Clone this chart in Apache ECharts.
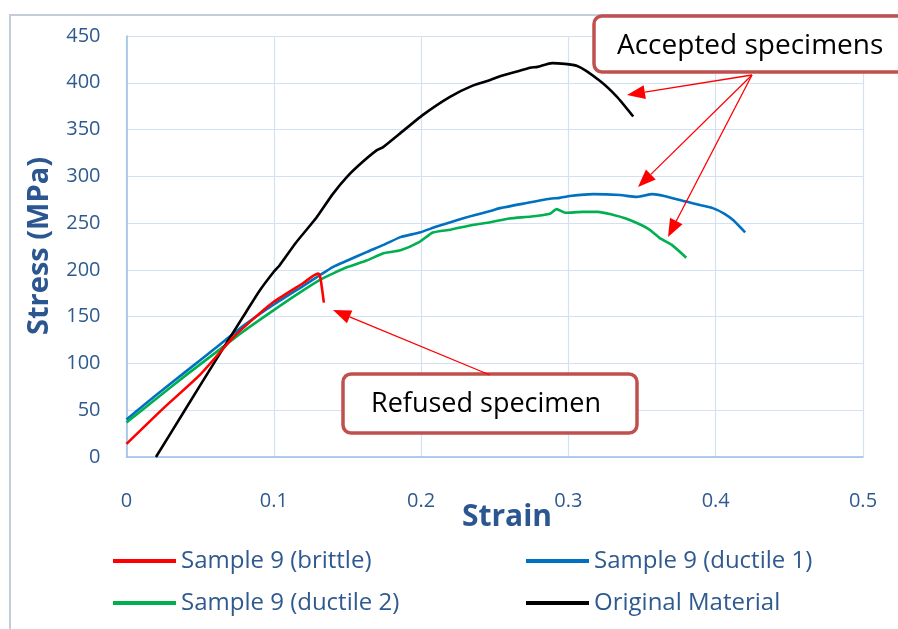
<!DOCTYPE html>
<html><head><meta charset="utf-8">
<script src="https://cdn.jsdelivr.net/npm/echarts@6/dist/echarts.min.js"></script>
<style>html,body{margin:0;padding:0;background:#fff}#c{width:898px;height:629px}</style>
</head><body><div id="c"></div>
<script>
const xTicks = [0, 0.1, 0.2, 0.3, 0.4, 0.5];
const yTicks = [0, 50, 100, 150, 200, 250, 300, 350, 400, 450];
const seriesNames = ['Sample 9 (brittle)', 'Sample 9 (ductile 1)', 'Sample 9 (ductile 2)', 'Original Material'];

const brittleStrain = [0, 0.025, 0.05, 0.0725, 0.09, 0.1, 0.12, 0.13, 0.131, 0.132, 0.134];
const brittleStress = [14, 52, 88, 128, 153, 166, 186, 196, 195, 188, 165];

const ductile1Strain = [0, 0.02, 0.04, 0.06, 0.08, 0.1, 0.12, 0.131, 0.14, 0.15, 0.163, 0.175, 0.186, 0.199, 0.21, 0.22, 0.235, 0.247, 0.2536, 0.27, 0.2875, 0.294, 0.301, 0.317, 0.335, 0.3465, 0.357, 0.365, 0.38, 0.39, 0.398, 0.406, 0.412, 0.42];
const ductile1Stress = [40, 66, 91, 116, 141, 163, 183, 194, 203, 210, 219, 227, 235, 240, 246, 251, 258, 263, 266, 271, 276, 277, 279, 281, 280, 278, 281, 279, 273, 269, 266, 260, 253, 240];

const ductile2Strain = [0, 0.02, 0.04, 0.06, 0.08, 0.1, 0.115, 0.131, 0.14, 0.15, 0.163, 0.175, 0.186, 0.199, 0.208, 0.22, 0.235, 0.247, 0.26, 0.275, 0.2875, 0.292, 0.298, 0.31, 0.32, 0.33, 0.339, 0.348, 0.355, 0.362, 0.37, 0.38];
const ductile2Stress = [37, 62, 87, 111, 135, 157, 173, 189, 196, 203, 210, 218, 221, 230, 240, 243, 248, 251, 255, 257, 260, 265, 261, 262, 262, 259, 255, 249, 243, 234, 227, 213];

const originalStrain = [0.02, 0.04, 0.06, 0.08, 0.09, 0.1, 0.104, 0.115, 0.129, 0.14, 0.15, 0.16, 0.17, 0.174, 0.185, 0.2015, 0.2196, 0.235, 0.247, 0.2536, 0.265, 0.274, 0.279, 0.289, 0.306, 0.3215, 0.333, 0.344];
const originalStress = [0, 51, 102, 152, 177, 198, 205, 229, 256, 281, 300, 315, 328, 331, 345, 366, 385, 397, 403, 407, 412, 416, 417, 421, 418, 402, 385, 364];

const seriesColors = ['#ff0000', '#0070c0', '#00b050', '#000000'];
const pairs = (xs, ys) => xs.map((x, i) => [x, ys[i]]);
const allData = [
  pairs(brittleStrain, brittleStress),
  pairs(ductile1Strain, ductile1Stress),
  pairs(ductile2Strain, ductile2Stress),
  pairs(originalStrain, originalStress)
];

const FONT = '"Open Sans", Lato, sans-serif';
const TXT = '#2f5a8f';
const chart = echarts.init(document.getElementById('c'));

function arrow(x1, y1, x2, y2, len, half) {
  const a = Math.atan2(y2 - y1, x2 - x1);
  const bx = x2 - len * Math.cos(a), by = y2 - len * Math.sin(a);
  const px = -Math.sin(a) * half, py = Math.cos(a) * half;
  return [
    { type: 'line', z: 20, shape: { x1: x1, y1: y1, x2: bx, y2: by }, style: { stroke: '#ff0000', lineWidth: 1.3 } },
    { type: 'polygon', z: 20, shape: { points: [[x2, y2], [bx + px, by + py], [bx - px, by - py]] }, style: { fill: '#ff0000' } }
  ];
}

const graphics = [
  { type: 'rect', z: -1, shape: { x: 10, y: 15, width: 900, height: 630 }, style: { fill: 'none', stroke: '#c3ccd8', lineWidth: 2 } },
  { type: 'text', z: 10, x: 40, y: 246, rotation: Math.PI / 2, style: { text: 'Stress (MPa)', font: 'bold 29px ' + FONT, fill: '#2b5690', align: 'center', verticalAlign: 'middle' } },
  { type: 'text', z: 10, x: 507, y: 517, style: { text: 'Strain', font: 'bold 30px ' + FONT, fill: '#2b5690', align: 'center', verticalAlign: 'middle' } },
  { type: 'rect', z: 15, shape: { x: 594, y: 16, width: 320, height: 56, r: 8 }, style: { fill: '#ffffff', stroke: '#c0504d', lineWidth: 3.5 } },
  { type: 'text', z: 16, x: 617, y: 46, style: { text: 'Accepted specimens', font: '28px ' + FONT, fill: '#000000', verticalAlign: 'middle' } },
  { type: 'rect', z: 15, shape: { x: 343, y: 374, width: 294, height: 59, r: 8 }, style: { fill: '#ffffff', stroke: '#c0504d', lineWidth: 3.5 } },
  { type: 'text', z: 16, x: 371, y: 404, style: { text: 'Refused specimen', font: '27px ' + FONT, fill: '#000000', verticalAlign: 'middle' } }
]
  .concat(arrow(752, 75, 627, 95, 18, 7))
  .concat(arrow(752, 75, 638, 187, 18, 7))
  .concat(arrow(752, 75, 668, 237, 18, 7))
  .concat(arrow(490, 375, 333, 310, 18, 7));

const legendCommon = { orient: 'vertical', padding: 0, itemGap: 18, itemWidth: 63, itemHeight: 4, icon: 'rect',
  textStyle: { color: TXT, fontFamily: FONT, fontSize: 24 } };

chart.setOption({
  animation: false,
  grid: { left: 126.5, right: 35, top: 36, bottom: 172 },
  xAxis: {
    type: 'value', min: xTicks[0], max: xTicks[xTicks.length - 1], interval: 0.1,
    axisLine: { lineStyle: { color: '#9dbde6', width: 1.5 } },
    axisTick: { show: false },
    splitLine: { lineStyle: { color: '#d3e1f3', width: 1.2 } },
    axisLabel: { margin: 34, color: TXT, fontFamily: FONT, fontSize: 20, formatter: v => String(+v.toFixed(1)) }
  },
  yAxis: {
    type: 'value', min: yTicks[0], max: yTicks[yTicks.length - 1], interval: 50,
    axisLine: { show: true, lineStyle: { color: '#9dbde6', width: 1.5 } },
    axisTick: { show: false },
    splitLine: { lineStyle: { color: '#d3e1f3', width: 1.2 } },
    axisLabel: { margin: 26, color: TXT, fontFamily: FONT, fontSize: 20 }
  },
  legend: [
    Object.assign({ left: 113, top: 549, data: [seriesNames[0], seriesNames[2]] }, legendCommon),
    Object.assign({ left: 526, top: 549, data: [seriesNames[1], seriesNames[3]] }, legendCommon)
  ],
  series: seriesNames.map((n, i) => ({
    name: n, type: 'line', data: allData[i], showSymbol: false, smooth: 0.2,
    lineStyle: { color: seriesColors[i], width: 2.6 }, itemStyle: { color: seriesColors[i] },
    z: i === 0 ? 5 : 3
  })),
  graphic: graphics
});
</script></body></html>
